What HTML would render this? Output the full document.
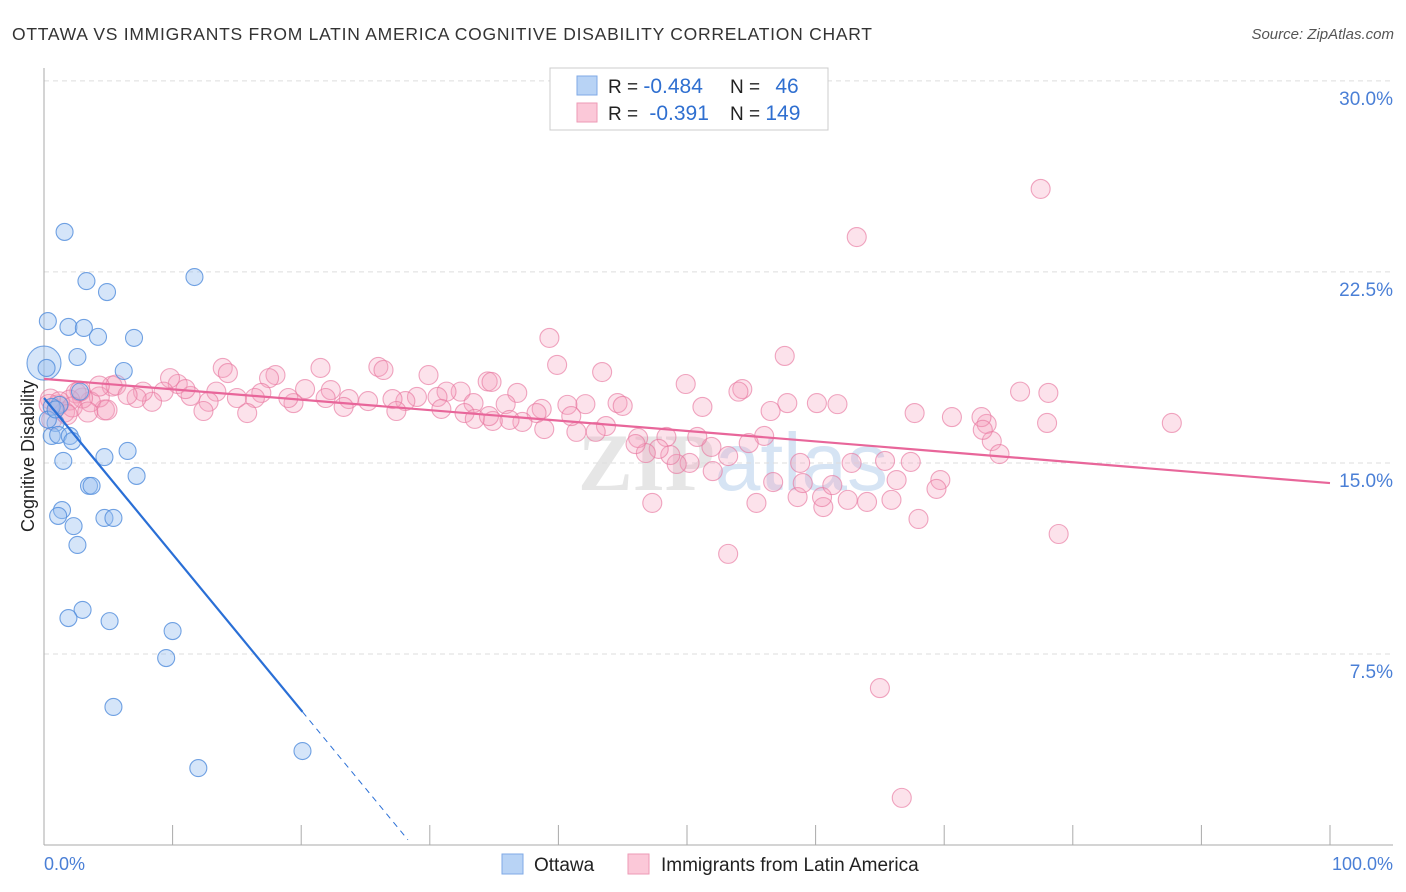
<!DOCTYPE html>
<html><head><meta charset="utf-8"><style>
body{margin:0;background:#fff;font-family:"Liberation Sans",sans-serif;}
svg{display:block}
</style></head><body>
<svg id="c" width="1406" height="892" xmlns="http://www.w3.org/2000/svg">
<text x="12" y="40" font-size="17.5" fill="#333" textLength="860" lengthAdjust="spacing">OTTAWA VS IMMIGRANTS FROM LATIN AMERICA COGNITIVE DISABILITY CORRELATION CHART</text>
<text x="1394" y="39" font-size="15" fill="#555" font-style="italic" text-anchor="end">Source: ZipAtlas.com</text>
<text x="733" y="490" font-size="82" fill="#e6e6e6" text-anchor="middle" font-family="Liberation Serif,serif" font-weight="bold">ZIP<tspan fill="#d6e4f4" font-family="Liberation Sans,sans-serif" font-weight="normal">atlas</tspan></text>
<g id="grid"></g>
<line x1="44" y1="68" x2="44" y2="845" stroke="#aaa"/>
<line x1="44" y1="845" x2="1393" y2="845" stroke="#aaa"/>
<text transform="translate(34,456) rotate(-90)" font-size="18" fill="#222" text-anchor="middle">Cognitive Disability</text>
<g id="pts"></g>
<g id="lines"></g>
<g>
<rect x="550" y="68" width="278" height="62" fill="#fff" stroke="#ccc"/>
<rect x="577" y="76" width="20" height="19" fill="#b8d3f5" stroke="#7fa9e6"/>
<rect x="577" y="103" width="20" height="19" fill="#fbc8d8" stroke="#ee9ab6"/>
<text x="608" y="93" font-size="19" fill="#222">R = <tspan fill="#2f6fd0" font-size="21">-0.484</tspan></text>
<text x="730" y="93" font-size="19" fill="#222">N = <tspan fill="#2f6fd0" dx="10" font-size="21">46</tspan></text>
<text x="608" y="120" font-size="19" fill="#222">R = <tspan fill="#2f6fd0" dx="6" font-size="21">-0.391</tspan></text>
<text x="730" y="120" font-size="19" fill="#222">N = <tspan fill="#2f6fd0" font-size="21">149</tspan></text>
</g>
<g>
<rect x="502" y="854" width="21" height="20" fill="#b8d3f5" stroke="#7fa9e6"/>
<text x="534" y="871" font-size="19" fill="#222">Ottawa</text>
<rect x="628" y="854" width="21" height="20" fill="#fbc8d8" stroke="#ee9ab6"/>
<text x="661" y="871" font-size="19" fill="#222">Immigrants from Latin America</text>
</g>
<text x="44" y="870" font-size="18" fill="#4a7fd6">0.0%</text>
<text x="1393" y="870" font-size="18" fill="#4a7fd6" text-anchor="end">100.0%</text>
</svg>
<script>
const yTicks=[7.5,15,22.5,30];
const yTickLabels=["7.5%","15.0%","22.5%","30.0%"];
const xTicks=[0,10,20,30,40,50,60,70,80,90,100];
const blueX=[1.6,3.3,4.9,11.7,0.3,1.9,3.1,4.2,7.0,2.6,0,6.2,0.2,1.2,2.8,0.6,0.9,0.6,1.1,2.0,2.2,1.5,4.7,6.5,7.2,3.5,3.7,1.4,1.1,4.7,5.4,2.3,2.6,3.0,1.9,5.1,10.0,9.5,5.4,20.1,12.0,0.3,0.9];
const blueY=[24.07,22.14,21.71,22.3,20.57,20.34,20.3,19.95,19.91,19.16,18.92,18.61,18.73,17.28,17.8,17.2,16.57,16.06,16.1,16.06,15.86,15.08,15.23,15.47,14.49,14.1,14.1,13.15,12.92,12.84,12.84,12.52,11.78,9.23,8.91,8.79,8.4,7.34,5.42,3.69,3.02,16.7,17.1];
const pinkX=[77.5,63.2,39.3,57.6,39.9,43.4,49.9,54.3,54.0,75.9,78.1,36.8,34.5,34.8,29.9,32.4,31.3,26.0,26.4,21.5,18.0,17.5,13.9,14.3,10.4,9.8,5.3,5.6,60.1,61.7,57.8,56.5,51.2,44.6,45.0,42.1,40.7,38.7,35.9,33.4,32.7,30.6,30.9,29.0,28.1,27.1,27.4,25.2,23.7,23.3,22.3,21.9,20.3,19.4,19.0,16.9,16.4,15.8,15.0,13.4,12.8,12.4,11.4,11.0,9.3,8.4,7.7,7.2,6.5,4.7,4.3,3.6,3.0,2.5,2.0,1.6,1.1,0.6,0.5,2.8,87.7,78.0,73.3,70.6,67.7,72.9,73.7,74.3,73.0,78.9,69.7,69.4,68.0,65.9,66.3,65.4,67.4,62.8,62.5,64.0,60.6,60.5,61.3,58.8,58.6,59.0,56.7,56.0,54.8,55.4,52.0,51.9,53.2,53.2,50.8,50.2,49.2,48.7,48.4,47.8,46.8,46.2,46.0,47.3,43.7,42.9,41.4,41.0,38.9,38.3,37.2,36.2,34.9,33.5,34.6,65.0,66.7,4.3,4.9,1.2,2.2,3.4,0.4,1.8];
const pinkY=[25.76,23.87,19.91,19.2,18.85,18.57,18.1,17.9,17.8,17.8,17.75,17.75,18.2,18.18,18.45,17.8,17.8,18.77,18.65,18.73,18.45,18.33,18.73,18.53,18.1,18.33,18.02,18.06,17.35,17.31,17.35,17.04,17.2,17.35,17.24,17.31,17.28,17.12,17.31,17.35,16.96,17.59,17.12,17.59,17.43,17.51,17.04,17.43,17.51,17.2,17.86,17.55,17.9,17.35,17.55,17.75,17.55,16.96,17.55,17.8,17.4,17.04,17.63,17.9,17.8,17.4,17.8,17.55,17.67,17.08,17.59,17.4,17.55,17.75,17.47,17.0,17.28,16.7,17.51,17.82,16.57,16.57,16.53,16.8,16.96,16.8,15.86,15.35,16.3,12.21,14.33,13.98,12.8,13.55,14.33,15.08,15.04,15.0,13.55,13.47,13.27,13.66,14.13,15.0,13.66,14.21,14.25,16.06,15.78,13.43,14.68,15.63,15.27,11.43,16.02,15.0,14.96,15.31,16.02,15.55,15.39,15.98,15.74,13.43,16.45,16.22,16.22,16.84,16.33,16.96,16.61,16.69,16.65,16.73,16.84,6.16,1.85,18.02,17.08,17.4,17.2,17.0,17.3,16.9];
const blueFit=[17.55,-0.613];
const pinkFit=[18.3,-0.0409];
const NS="http://www.w3.org/2000/svg";
const X=v=>44+v*12.86, Y=v=>845-v*25.47;
function mk(t,a,p){const e=document.createElementNS(NS,t);for(const k in a)e.setAttribute(k,a[k]);p.appendChild(e);return e;}
const grid=document.getElementById('grid'),pts=document.getElementById('pts'),lines=document.getElementById('lines'),svg=document.getElementById('c');
yTicks.forEach((v,i)=>{
 const l=mk('line',{x1:44,x2:1393,y1:Y(v),y2:Y(v),stroke:'#ddd','stroke-dasharray':'5,4'},grid);
 
 
 const t=mk('text',{x:1393,y:Y(v)+24,'font-size':19,fill:'#4a7fd6','text-anchor':'end'},svg);
 t.textContent=yTickLabels[i];
 
 
});
xTicks.forEach(v=>{
 const l=mk('line',{x1:X(v),x2:X(v),y1:825,y2:845,stroke:'#aaa'},grid);
 
 
});
pinkX.forEach((x,i)=>{
 const c=mk('circle',{cx:X(x),cy:Y(pinkY[i]),r:(x<6?10:9.5),fill:'rgba(244,160,190,0.3)',stroke:'rgba(232,120,160,0.65)','stroke-width':1.1},pts);
 
 
});
blueX.forEach((x,i)=>{
 const c=mk('circle',{cx:X(x),cy:Y(blueY[i]),r:(i===10?17:8.5),fill:'rgba(150,190,240,0.4)',stroke:'rgba(80,140,220,0.8)','stroke-width':1.1},pts);
 
 
});
let l=mk('line',{x1:X(0),y1:Y(pinkFit[0]),x2:X(100),y2:Y(pinkFit[0]+pinkFit[1]*100),stroke:'#e8669a','stroke-width':2.2},lines);


l=mk('line',{x1:X(0),y1:Y(blueFit[0]),x2:X(20.1),y2:Y(blueFit[0]+blueFit[1]*20.1),stroke:'#2a6fd6','stroke-width':2.2},lines);


l=mk('line',{x1:X(20.1),y1:Y(blueFit[0]+blueFit[1]*20.1),x2:X(28.3),y2:Y(blueFit[0]+blueFit[1]*28.3),stroke:'#2a6fd6','stroke-width':1,'stroke-dasharray':'6,5'},lines);


</script>
</body></html>
